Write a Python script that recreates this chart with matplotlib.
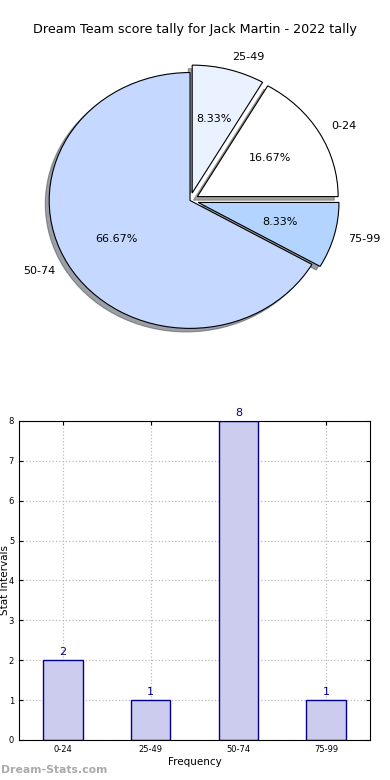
import matplotlib
matplotlib.use('Agg')
import matplotlib.pyplot as plt

title = 'Dream Team score tally for Jack Martin - 2022 tally'
intervals = ['0-24', '25-49', '50-74', '75-99']
counts = [2, 1, 8, 1]
pie_colors = ['#ffffff', '#eaf1ff', '#c5d8ff', '#b3d4ff']
explode = [0.06, 0.06, 0.0, 0.06]


def draw_pie(ax):
    wedges, texts, autotexts = ax.pie(counts, labels=intervals, colors=pie_colors,
                                      explode=explode, autopct='%.2f%%', shadow=True,
                                      startangle=0,
                                      wedgeprops={'edgecolor': 'black', 'linewidth': 0.8})
    for t in texts + autotexts:
        t.set_fontsize(8)
    ax.set_aspect('auto')
    ax.set_xlim(-1.25, 1.25)
    ax.set_ylim(-1.25, 1.25)


def draw_bars(ax):
    x = list(range(len(intervals)))
    ax.bar(x, counts, width=0.45, color='#ccccee', edgecolor='#000088', linewidth=1, zorder=2)
    for xi, c in zip(x, counts):
        ax.text(xi, c + 0.08, str(c), ha='center', va='bottom', color='#000088', fontsize=8)
    ax.set_xlim(-0.5, 3.5)
    ax.set_ylim(0, 8)
    ax.set_xticks(x)
    ax.set_xticklabels(intervals)
    ax.set_yticks(range(0, 9))
    ax.tick_params(labelsize=6, direction='in', top=True, right=True, length=3)
    ax.grid(True, linestyle=':', color='#bbbbbb', linewidth=0.9, zorder=0)
    ax.set_axisbelow(True)
    ax.set_xlabel('Frequency', fontsize=7.5, labelpad=2)
    ax.set_ylabel('Stat Intervals', fontsize=7.5)
    ax.yaxis.set_label_coords(-0.026, 0.5)


fig = plt.figure(figsize=(3.9, 7.8), dpi=100)
ax1 = fig.add_axes([0.0359, 0.538, 0.9026, 0.41])
draw_pie(ax1)
fig.text(0.5, 0.962, title, fontsize=9.2, ha='center', va='center')
ax2 = fig.add_axes([0.0487, 0.0513, 0.9, 0.409])
draw_bars(ax2)
fig.text(0.002, 0.006, 'Dream-Stats.com', fontsize=7.8, color='#aaaaaa', fontweight='bold', ha='left', va='bottom')
fig.savefig('out.png', dpi=100)
